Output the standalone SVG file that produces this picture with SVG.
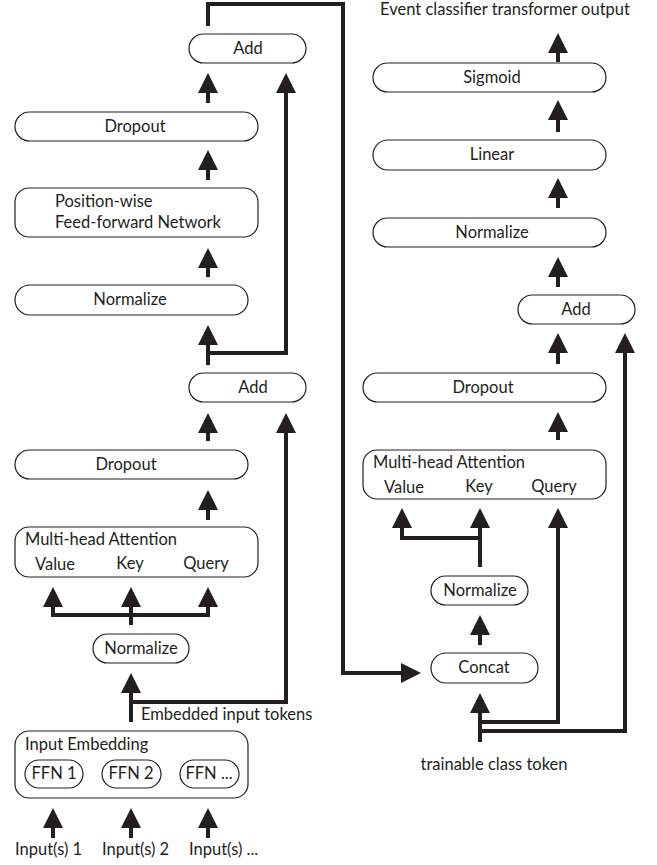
<svg xmlns="http://www.w3.org/2000/svg" width="657" height="865" viewBox="0 0 657 865">
<style>
.box{fill:#fff;stroke:#231f20;stroke-width:1.2}
.t{font-family:Lato,"Liberation Sans",sans-serif;font-size:16.5px;fill:#231f20}
.c{text-anchor:middle}
.w{fill:none;stroke:#231f20;stroke-width:4;stroke-linejoin:miter}
.a{marker-end:url(#ah)}
</style>
<defs>
<marker id="ah" markerUnits="userSpaceOnUse" markerWidth="20" markerHeight="20" refX="0" refY="10" orient="auto" viewBox="0 0 20 20">
<path d="M0,0 L20,10 L0,20 z" fill="#231f20"/>
</marker>
</defs>
<rect width="657" height="865" fill="#fff"/>

<g id="connectors">
<path class="w a" d="M208,26 V4 H343 V673 H401"/>
<path class="w a" d="M208,103 V93"/>
<path class="w a" d="M208,353 H286 V93"/>
<path class="w a" d="M208,180 V170"/>
<path class="w a" d="M208,277 V268"/>
<path class="w a" d="M208,365 V345"/>
<path class="w a" d="M208,441 V433"/>
<path class="w a" d="M131,702 H286 V433"/>
<path class="w a" d="M208,520 V510"/>
<path class="w a" d="M131,625 V615 H53 V607"/>
<path class="w a" d="M131,625 V607"/>
<path class="w a" d="M131,615 H208 V607"/>
<path class="w a" d="M131,722 V693"/>
<path class="w a" d="M53,838 V828"/>
<path class="w a" d="M131,838 V828"/>
<path class="w a" d="M208,838 V828"/>
<path class="w a" d="M558,62 V53"/>
<path class="w a" d="M558,132 V120"/>
<path class="w a" d="M558,208 V198"/>
<path class="w a" d="M558,287 V277"/>
<path class="w a" d="M558,364 V353"/>
<path class="w a" d="M480,731 H625 V353"/>
<path class="w a" d="M558,440 V432"/>
<path class="w a" d="M480,567 V538 H402 V528"/>
<path class="w a" d="M480,567 V528"/>
<path class="w a" d="M480,722 H558 V528"/>
<path class="w a" d="M480,645 V635"/>
<path class="w a" d="M480,742 V713"/>
</g>

<g id="add2"><rect class="box" x="189" y="34" width="117" height="29" rx="14.5"/><text class="t c" x="248" y="54">Add</text></g>
<g id="dropout2"><rect class="box" x="15" y="112" width="243" height="29" rx="14.5"/><text class="t c" x="135" y="132">Dropout</text></g>
<g id="ffn"><rect class="box" x="15" y="188" width="243" height="49" rx="14"/><text class="t" x="55" y="207">Position-wise</text><text class="t" x="55" y="228">Feed-forward Network</text></g>
<g id="norm2"><rect class="box" x="15" y="285" width="233" height="30" rx="15"/><text class="t c" x="130" y="305">Normalize</text></g>
<g id="add1"><rect class="box" x="189" y="373" width="117" height="29" rx="14.5"/><text class="t c" x="253" y="393">Add</text></g>
<g id="dropout1"><rect class="box" x="15" y="450" width="233" height="29" rx="14.5"/><text class="t c" x="126" y="470">Dropout</text></g>
<g id="mha1"><rect class="box" x="15" y="527" width="243" height="50" rx="14"/><text class="t" x="25" y="545">Multi-head Attention</text><text class="t c" x="55" y="570">Value</text><text class="t c" x="130" y="569">Key</text><text class="t c" x="206" y="569">Query</text></g>
<g id="norm1"><rect class="box" x="93" y="634" width="96" height="29" rx="14.5"/><text class="t c" x="141" y="654">Normalize</text></g>
<g id="label-embedded"><text class="t" x="141" y="720">Embedded input tokens</text></g>
<g id="embed"><rect class="box" x="15" y="731" width="233" height="67" rx="14"/><text class="t" x="25" y="750">Input Embedding</text>
<rect class="box" x="25" y="760" width="58" height="28" rx="14"/><text class="t c" x="54" y="779">FFN 1</text>
<rect class="box" x="102" y="760" width="59" height="28" rx="14"/><text class="t c" x="131" y="779">FFN 2</text>
<rect class="box" x="180" y="760" width="59" height="28" rx="14"/><text class="t c" x="209" y="779">FFN ...</text></g>
<g id="inputs"><text class="t" x="15" y="855">Input(s) 1</text><text class="t" x="102" y="855">Input(s) 2</text><text class="t" x="189" y="855">Input(s) ...</text></g>

<g id="output-label"><text class="t c" x="505" y="15">Event classifier transformer output</text></g>
<g id="sigmoid"><rect class="box" x="373" y="63" width="233" height="29" rx="14.5"/><text class="t c" x="492" y="83">Sigmoid</text></g>
<g id="linear"><rect class="box" x="373" y="140" width="233" height="30" rx="15"/><text class="t c" x="492" y="160">Linear</text></g>
<g id="norm4"><rect class="box" x="373" y="218" width="233" height="29" rx="14.5"/><text class="t c" x="492" y="238">Normalize</text></g>
<g id="add3"><rect class="box" x="518" y="295" width="117" height="29" rx="14.5"/><text class="t c" x="576" y="315">Add</text></g>
<g id="dropout3"><rect class="box" x="363" y="373" width="243" height="29" rx="14.5"/><text class="t c" x="483" y="393">Dropout</text></g>
<g id="mha2"><rect class="box" x="363" y="450" width="243" height="49" rx="14"/><text class="t" x="373" y="468">Multi-head Attention</text><text class="t c" x="404" y="493">Value</text><text class="t c" x="479" y="492">Key</text><text class="t c" x="554" y="492">Query</text></g>
<g id="norm3"><rect class="box" x="431" y="576" width="97" height="29" rx="14.5"/><text class="t c" x="480" y="596">Normalize</text></g>
<g id="concat"><rect class="box" x="431" y="653" width="107" height="30" rx="15"/><text class="t c" x="484" y="673">Concat</text></g>
<g id="token-label"><text class="t c" x="494" y="770">trainable class token</text></g>
</svg>
